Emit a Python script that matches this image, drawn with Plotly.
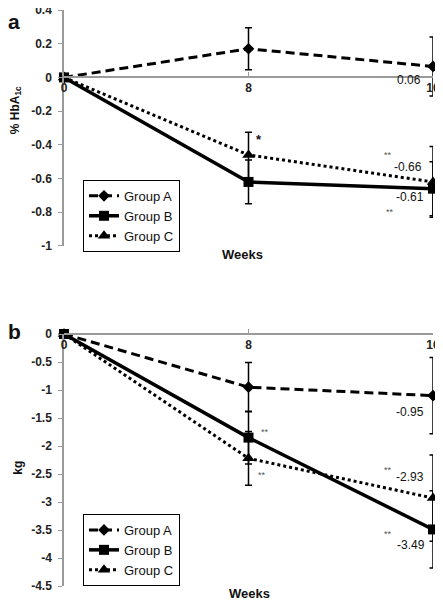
import plotly.graph_objects as go

weeks = [0, 8, 16]
groups = ["Group A", "Group B", "Group C"]

# Panel a: % HbA1c change
hba_a = [0, 0.17, 0.065]
hba_a_err = [0, 0.125, 0.175]
hba_b = [0, -0.62, -0.66]
hba_b_err = [0, 0.13, 0.16]
hba_c = [0, -0.46, -0.62]
hba_c_err = [0, 0.135, 0.21]

# Panel b: weight change (kg)
kg_a = [0, -0.95, -1.10]
kg_a_err = [0, 0.44, 0.68]
kg_b = [0, -1.85, -3.49]
kg_b_err = [0, 0.47, 0.69]
kg_c = [0, -2.22, -2.93]
kg_c_err = [0, 0.48, 0.77]

ya_ticks = [0.4, 0.2, 0, -0.2, -0.4, -0.6, -0.8, -1]
ya_text = ["0.4", "0.2", "0", "-0.2", "-0.4", "-0.6", "-0.8", "-1"]
yb_ticks = [0, -0.5, -1, -1.5, -2, -2.5, -3, -3.5, -4, -4.5]
yb_text = ["0", "-0.5", "-1", "-1.5", "-2", "-2.5", "-3", "-3.5", "-4", "-4.5"]
x_ticks = [0, 8, 16]
x_text = ["0", "8", "16"]

# annotations: (text, x, y, size, color, bold)
notes_a = [
    ("*", 8.45, -0.37, 13, "#111", True),
    ("0.06", 14.96, -0.015, 12, "#111", False),
    ("**", 14.05, -0.46, 9, "#555", False),
    ("-0.66", 14.92, -0.53, 12, "#111", False),
    ("-0.61", 15.0, -0.71, 12, "#111", False),
    ("**", 14.14, -0.80, 9, "#555", False),
]
notes_b = [
    ("**", 8.72, -1.75, 9, "#555", False),
    ("**", 8.59, -2.52, 9, "#555", False),
    ("-0.95", 15.0, -1.39, 12, "#111", False),
    ("**", 14.05, -2.43, 9, "#555", False),
    ("-2.93", 15.0, -2.56, 12, "#111", False),
    ("**", 14.05, -3.58, 9, "#555", False),
    ("-3.49", 15.05, -3.76, 12, "#111", False),
]

styles = {
    "Group A": dict(dash="9px,5px", width=3, symbol="diamond", size=9),
    "Group B": dict(dash="solid", width=3.5, symbol="square", size=10),
    "Group C": dict(dash="dot", width=3, symbol="triangle-up", size=11),
}

fig = go.Figure()

def add(name, ys, errs, xa, ya, legend):
    s = styles[name]
    fig.add_trace(go.Scatter(
        x=weeks, y=ys, name=name, mode="lines+markers",
        line=dict(color="black", width=s["width"], dash=s["dash"]),
        marker=dict(color="black", symbol=s["symbol"], size=s["size"]),
        error_y=dict(type="data", array=errs, visible=True, color="black",
                     thickness=1.5, width=3.5),
        xaxis=xa, yaxis=ya, legend=legend, cliponaxis=False,
    ))

add("Group A", hba_a, hba_a_err, "x", "y", "legend")
add("Group B", hba_b, hba_b_err, "x", "y", "legend")
add("Group C", hba_c, hba_c_err, "x", "y", "legend")
add("Group A", kg_a, kg_a_err, "x2", "y2", "legend2")
add("Group B", kg_b, kg_b_err, "x2", "y2", "legend2")
add("Group C", kg_c, kg_c_err, "x2", "y2", "legend2")

axis_gray = "#9a9a9a"
tickfont = dict(family="Arial, Liberation Sans", size=12, color="#222", weight="bold")

xcommon = dict(range=[0, 16], tickvals=x_ticks, ticktext=x_text, showgrid=False,
               zeroline=False, showline=True, linecolor=axis_gray, linewidth=1.5,
               ticks="inside", ticklen=4, tickcolor=axis_gray, tickfont=tickfont,
               anchor="free", side="bottom", automargin=False,
               ticklabeloverflow="allow")
ycommon = dict(showgrid=False, zeroline=False, showline=True, linecolor=axis_gray,
               linewidth=1.5, ticks="outside", ticklen=4, tickcolor=axis_gray,
               tickfont=tickfont, ticklabelstandoff=4, automargin=False,
               ticklabeloverflow="allow")

legfont = dict(family="Arial, Liberation Sans", size=13, color="#111")

# The page places the figure 8px from the top-left corner of the window,
# so the figure is 8px smaller and margins are reduced to keep the plot area in place.
fig.update_layout(
    width=435, height=592,
    margin=dict(l=56, r=10, t=2, b=14, autoexpand=False),
    plot_bgcolor="white", paper_bgcolor="white",
    xaxis=dict(**xcommon, domain=[0, 1], position=0.8843),
    yaxis=dict(**ycommon, domain=[0.5903, 1], range=[-1, 0.4],
               tickvals=ya_ticks, ticktext=ya_text),
    xaxis2=dict(**xcommon, domain=[0, 1], position=0.4375),
    yaxis2=dict(**ycommon, domain=[0, 0.4375], range=[-4.5, 0],
                tickvals=yb_ticks, ticktext=yb_text),
    legend=dict(x=0.0515, y=0.705, xanchor="left", yanchor="top",
                bordercolor="black", borderwidth=1, bgcolor="white",
                font=legfont, itemwidth=30, tracegroupgap=0),
    legend2=dict(x=0.0515, y=0.125, xanchor="left", yanchor="top",
                 bordercolor="black", borderwidth=1, bgcolor="white",
                 font=legfont, itemwidth=30, tracegroupgap=0),
    showlegend=True,
)

ann = []
for t, x, y, sz, c, b in notes_a:
    ann.append(dict(text=t, x=x, y=y, xref="x", yref="y", showarrow=False,
                    xanchor="center", yanchor="middle",
                    font=dict(family="Arial, Liberation Sans", size=sz, color=c,
                              weight="bold" if b else "normal")))
for t, x, y, sz, c, b in notes_b:
    ann.append(dict(text=t, x=x, y=y, xref="x2", yref="y2", showarrow=False,
                    xanchor="center", yanchor="middle",
                    font=dict(family="Arial, Liberation Sans", size=sz, color=c,
                              weight="bold" if b else "normal")))

boldf = dict(family="Arial, Liberation Sans", color="#111", weight="bold")
common = dict(xref="paper", yref="paper", showarrow=False, xanchor="center", yanchor="middle")
ann += [
    dict(text="a", x=-0.1355, y=1.0035, yanchor="top", xanchor="center",
         xref="paper", yref="paper", showarrow=False, font=dict(**boldf, size=21)),
    dict(text="b", x=-0.1355, y=0.441, font=dict(**boldf, size=21), **common),
    dict(text="% HbA<sub>1c</sub>", x=-0.130, y=0.826, textangle=-90,
         font=dict(**boldf, size=12), **common),
    dict(text="kg", x=-0.125, y=0.205, textangle=-90,
         font=dict(**boldf, size=12), **common),
    dict(text="Weeks", x=0.485, y=0.5747, font=dict(**boldf, size=13), **common),
    dict(text="Weeks", x=0.504, y=-0.0122, font=dict(**boldf, size=13), **common),
]
fig.update_layout(annotations=ann)

fig.write_html("out.html")
